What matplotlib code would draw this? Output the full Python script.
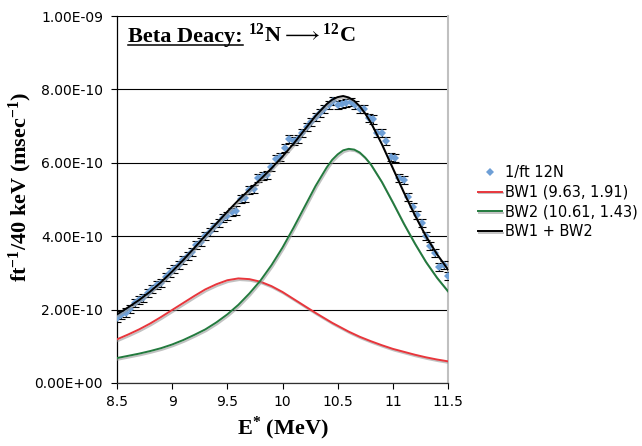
import matplotlib
matplotlib.use("Agg")
import matplotlib.pyplot as plt
import matplotlib.patheffects as pe
from matplotlib.lines import Line2D
from matplotlib.ticker import FuncFormatter, FixedLocator
import numpy as np

plt.rcParams['font.family'] = ['DejaVu Sans']
plt.rcParams['mathtext.fontset'] = 'custom'
plt.rcParams['mathtext.rm'] = 'Liberation Serif:bold'
plt.rcParams['mathtext.it'] = 'Liberation Serif:bold'
plt.rcParams['mathtext.bf'] = 'Liberation Serif:bold'

# measured 1/ft per 40 keV bin (units of 1e-10 msec^-1)
energy = [8.50, 8.54, 8.58, 8.62, 8.66, 8.70, 8.74, 8.78, 8.82, 8.86,
          8.90, 8.94, 8.98, 9.02, 9.06, 9.10, 9.14, 9.18, 9.22, 9.26,
          9.30, 9.34, 9.38, 9.42, 9.46, 9.50, 9.54, 9.58, 9.62, 9.66,
          9.70, 9.74, 9.78, 9.82, 9.86, 9.90, 9.94, 9.98, 10.02, 10.06,
          10.10, 10.14, 10.18, 10.22, 10.26, 10.30, 10.34, 10.38, 10.42, 10.46,
          10.50, 10.54, 10.58, 10.62, 10.66, 10.70, 10.74, 10.78, 10.82, 10.86,
          10.90, 10.94, 10.98, 11.02, 11.06, 11.10, 11.14, 11.18, 11.22, 11.26,
          11.30, 11.34, 11.38, 11.42, 11.46, 11.50]
rate = [1.76, 1.85, 1.92, 2.01, 2.19, 2.26, 2.31, 2.44, 2.55, 2.67,
        2.73, 2.88, 3.01, 3.10, 3.22, 3.35, 3.47, 3.58, 3.76, 3.85,
        4.01, 4.12, 4.24, 4.37, 4.49, 4.55, 4.65, 4.70, 5.01, 5.03,
        5.26, 5.29, 5.58, 5.64, 5.67, 5.88, 6.10, 6.17, 6.41, 6.65,
        6.59, 6.65, 6.80, 6.98, 7.10, 7.26, 7.35, 7.47, 7.57, 7.69,
        7.57, 7.60, 7.62, 7.65, 7.57, 7.46, 7.47, 7.23, 7.18, 6.82,
        6.82, 6.60, 6.17, 6.12, 5.58, 5.53, 5.08, 4.79, 4.58, 4.35,
        4.01, 3.74, 3.55, 3.17, 3.22, 2.92]
rate_err = 0.11

# fitted Breit-Wigner curves (units of 1e-10)
e_fit = [8.5, 8.6, 8.7, 8.8, 8.9, 9.0, 9.1, 9.2, 9.3, 9.4, 9.5, 9.6, 9.7, 9.8, 9.9, 10.0,
         10.1, 10.2, 10.3, 10.4, 10.45, 10.5, 10.55, 10.6, 10.65, 10.7, 10.75, 10.8,
         10.9, 11.0, 11.1, 11.2, 11.3, 11.4, 11.5]
bw1 = [1.19, 1.32, 1.46, 1.62, 1.80, 1.99, 2.18, 2.37, 2.55, 2.69, 2.80, 2.85, 2.83, 2.76, 2.64, 2.48,
       2.29, 2.10, 1.91, 1.73, 1.64, 1.56, 1.48, 1.40, 1.33, 1.26, 1.20, 1.14,
       1.03, 0.93, 0.85, 0.77, 0.70, 0.64, 0.59]
bw2 = [0.68, 0.74, 0.80, 0.87, 0.95, 1.05, 1.17, 1.31, 1.46, 1.65, 1.87, 2.13, 2.44, 2.79, 3.21, 3.69,
       4.23, 4.80, 5.37, 5.87, 6.08, 6.23, 6.34, 6.38, 6.36, 6.28, 6.14, 5.96,
       5.48, 4.92, 4.34, 3.80, 3.30, 2.87, 2.50]

labels = ['1/ft 12N', 'BW1 (9.63, 1.91)', 'BW2 (10.61, 1.43)', 'BW1 + BW2']
x_ticks = [8.5, 9, 9.5, 10, 10.5, 11, 11.5]
y_ticks = [0, 2e-10, 4e-10, 6e-10, 8e-10, 1e-9]

scale = 1e-10
E = np.array(energy)
R = np.array(rate) * scale
ef = np.array(e_fit)
b1 = np.array(bw1) * scale
b2 = np.array(bw2) * scale

fig = plt.figure(figsize=(6.42, 4.46), dpi=100)
ax = fig.add_axes([117/642, 1-383/446, 331/642, 367/446])

shadow = [pe.SimpleLineShadow(offset=(0.8, -1.2), shadow_color='#9a9a9a', alpha=0.6), pe.Normal()]

ax.errorbar(E, R, yerr=rate_err*scale, fmt='none', ecolor='black', elinewidth=0.8,
            capsize=2.6, capthick=0.8, zorder=3)
ax.plot(E, R, 'D', color='#6E9FD6', markersize=3.8, markeredgewidth=0, label=labels[0], zorder=4)
ax.plot(ef, b1, color='#E8363C', lw=1.4, label=labels[1], path_effects=shadow, zorder=5)
ax.plot(ef, b2, color='#237A3E', lw=1.4, label=labels[2], path_effects=shadow, zorder=5)
ax.plot(ef, b1 + b2, color='black', lw=1.4, label=labels[3], path_effects=shadow, zorder=5)

ax.set_xlim(8.5, 11.5)
ax.set_ylim(0, 1e-9)
ax.xaxis.set_major_locator(FixedLocator(x_ticks))
ax.yaxis.set_major_locator(FixedLocator(y_ticks))
ax.xaxis.set_major_formatter(FuncFormatter(lambda v, p: f"{v:g}"))
ax.yaxis.set_major_formatter(FuncFormatter(lambda v, p: f"{v:.2E}"))
ax.tick_params(axis='both', labelsize=10, length=4, width=0.8, direction='out', color='black')
ax.tick_params(axis='y', pad=6)
ax.tick_params(axis='x', pad=5)
ax.grid(axis='y', color='black', lw=0.8)
ax.set_axisbelow(True)
ax.spines['top'].set_visible(False)
ax.spines['right'].set_color('#c0c0c0')
ax.spines['right'].set_linewidth(1.5)
ax.spines['left'].set_linewidth(0.9)
ax.spines['bottom'].set_linewidth(0.9)
ax.spines['bottom'].set_color('#303030')

# title inside plot
ty = 0.929
t = ax.text(0.033, ty, 'Beta Deacy:', transform=ax.transAxes, family='Liberation Serif',
            fontweight='bold', fontsize=16, va='baseline', ha='left')
ax.text(0.396, ty, r'$^{12}$N$\longrightarrow$$^{12}$C', transform=ax.transAxes,
        family='Liberation Serif', fontweight='bold', fontsize=16, va='baseline', ha='left')
fig.canvas.draw()
bb = t.get_window_extent().transformed(ax.transAxes.inverted())
ax.add_line(Line2D([bb.x0, bb.x1], [ty - 0.007, ty - 0.007], transform=ax.transAxes,
                   color='black', lw=1.1, clip_on=False))

fig.text(20/642, 1-187/446, r'ft$^{-1}$/40 keV (msec$^{-1}$)', rotation=90, ha='center', va='center',
         family='Liberation Serif', fontweight='bold', fontsize=16)
fig.text(282.5/642, 1-428/446, r'E$^{*}$ (MeV)', ha='center', va='center',
         family='Liberation Serif', fontweight='bold', fontsize=16)

fig.legend(loc='upper left', bbox_to_anchor=(478/642, 1-165/446), frameon=False, fontsize=10.5,
           handlelength=1.65, handletextpad=0.2, labelspacing=0.32, borderpad=0, borderaxespad=0)

fig.savefig('out.png', dpi=100)
